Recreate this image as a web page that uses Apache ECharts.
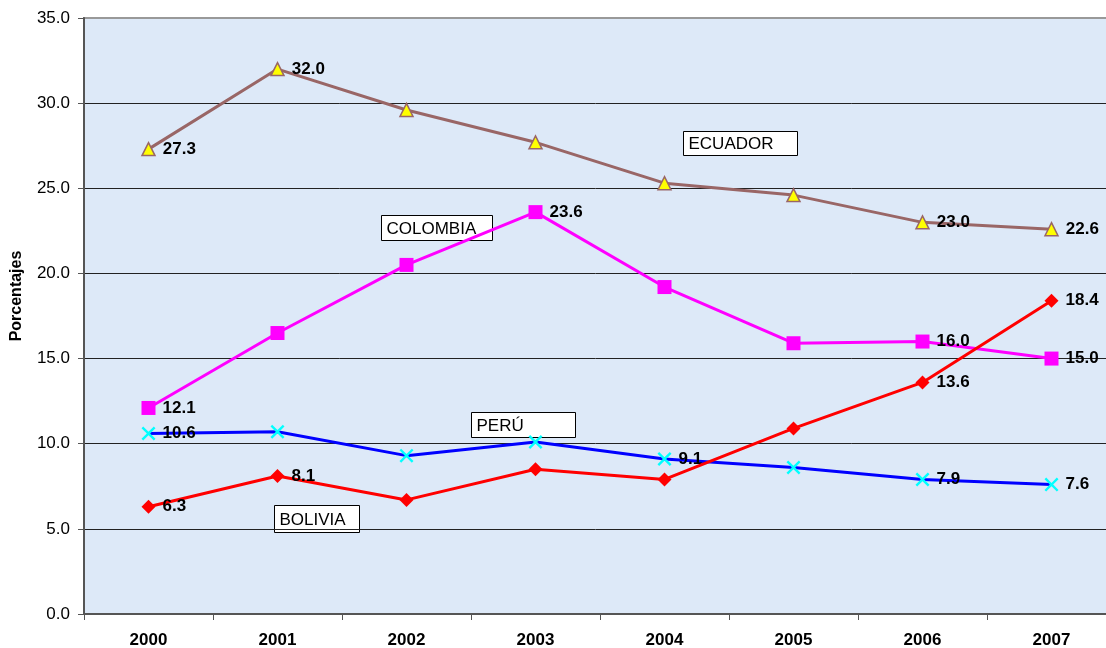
<!DOCTYPE html>
<html>
<head>
<meta charset="utf-8">
<script src="https://cdn.jsdelivr.net/npm/echarts@6/dist/echarts.min.js"></script>
<style>html,body{margin:0;padding:0;background:#fff}#c{width:1106px;height:648px}</style>
</head>
<body>
<div id="c"></div>
<script>
const years = ['2000','2001','2002','2003','2004','2005','2006','2007'];
const ecuador  = [27.3, 32.0, 29.6, 27.7, 25.3, 24.6, 23.0, 22.6];
const colombia = [12.1, 16.5, 20.5, 23.6, 19.2, 15.9, 16.0, 15.0];
const peru     = [10.6, 10.7, 9.3, 10.1, 9.1, 8.6, 7.9, 7.6];
const bolivia  = [6.3, 8.1, 6.7, 8.5, 7.9, 10.9, 13.6, 18.4];
const labeledEcuador  = [0, 1, 6, 7];
const labeledColombia = [0, 3, 6, 7];
const labeledPeru     = [0, 4, 6, 7];
const labeledBolivia  = [0, 1, 6, 7];

const FONT = '"Liberation Sans", Arial, sans-serif';
const labelStyle = {position: 'right', distance: 7, color: '#000', fontWeight: 'bold', fontSize: 17, fontFamily: FONT,
  formatter: p => Number(p.value).toFixed(1)};

function mk(vals, idx) {
  return vals.map((v, i) => idx.includes(i) ? {value: v, label: Object.assign({show: true}, labelStyle)} : v);
}
const xPath = 'path://M0,1.2L1.2,0L5,3.8L8.8,0L10,1.2L6.2,5L10,8.8L8.8,10L5,6.2L1.2,10L0,8.8L3.8,5Z';

const chart = echarts.init(document.getElementById('c'), null, {renderer: 'canvas'});

function box(x, y, w, h, t) {
  return {type: 'group', left: x, top: y, z: 100, children: [
    {type: 'rect', shape: {x: 0, y: 0, width: w, height: h}, style: {fill: '#fff', stroke: '#000', lineWidth: 1}},
    {type: 'text', x: 5, y: h / 2 + 1, style: {text: t, fill: '#000', font: '17px ' + FONT, textVerticalAlign: 'middle'}}
  ]};
}

chart.setOption({
  animation: false,
  backgroundColor: '#fff',
  grid: {left: 84, top: 18, width: 1032, bottom: 34, outerBoundsMode: 'none', containLabel: false,
    show: true, backgroundColor: '#dde9f8', borderColor: '#999', borderWidth: 2},
  xAxis: {
    type: 'category', data: years, boundaryGap: true,
    axisLine: {lineStyle: {color: '#555', width: 2}},
    axisTick: {show: true, length: 6, lineStyle: {color: '#555', width: 1}},
    axisLabel: {color: '#000', fontWeight: 'bold', fontSize: 17, fontFamily: FONT, margin: 18},
    splitLine: {show: false}
  },
  yAxis: {
    type: 'value', min: 0, max: 35, interval: 5,
    axisLine: {show: true, lineStyle: {color: '#555', width: 2}},
    axisTick: {show: true, length: 6, lineStyle: {color: '#555', width: 1}},
    axisLabel: {color: '#000', fontSize: 17, fontFamily: FONT, margin: 14, formatter: v => v.toFixed(1)},
    splitLine: {show: true, lineStyle: {color: ['#222','#222','#222','#222','#222','#222','#222','#999'], width: 1}}
  },
  series: [
    {name: 'ECUADOR', type: 'line', data: mk(ecuador, labeledEcuador), symbol: 'triangle', symbolSize: 13,
      lineStyle: {color: '#996666', width: 3}, itemStyle: {color: '#ffff00', borderColor: '#996666', borderWidth: 1.5}, z: 3},
    {name: 'COLOMBIA', type: 'line', data: mk(colombia, labeledColombia), symbol: 'rect', symbolSize: 14,
      lineStyle: {color: '#ff00ff', width: 3}, itemStyle: {color: '#ff00ff'}, z: 4},
    {name: 'PERÚ', type: 'line', data: mk(peru, labeledPeru), symbol: xPath, symbolSize: 14,
      lineStyle: {color: '#0000ff', width: 3}, itemStyle: {color: '#00ffff'}, z: 5},
    {name: 'BOLIVIA', type: 'line', data: mk(bolivia, labeledBolivia), symbol: 'diamond', symbolSize: 14,
      lineStyle: {color: '#ff0000', width: 3}, itemStyle: {color: '#ff0000'}, z: 6}
  ],
  graphic: [
    {type: 'text', x: 17, y: 296, rotation: Math.PI / 2, style: {text: 'Porcentajes', fill: '#000',
      font: 'bold 16px ' + FONT, textAlign: 'center', textVerticalAlign: 'middle'}},
    box(683, 131, 114, 24, 'ECUADOR'),
    box(381, 215, 111, 25, 'COLOMBIA'),
    box(471, 412, 104, 25, 'PERÚ'),
    box(274, 505, 85, 27, 'BOLIVIA')
  ]
});
</script>
</body>
</html>
